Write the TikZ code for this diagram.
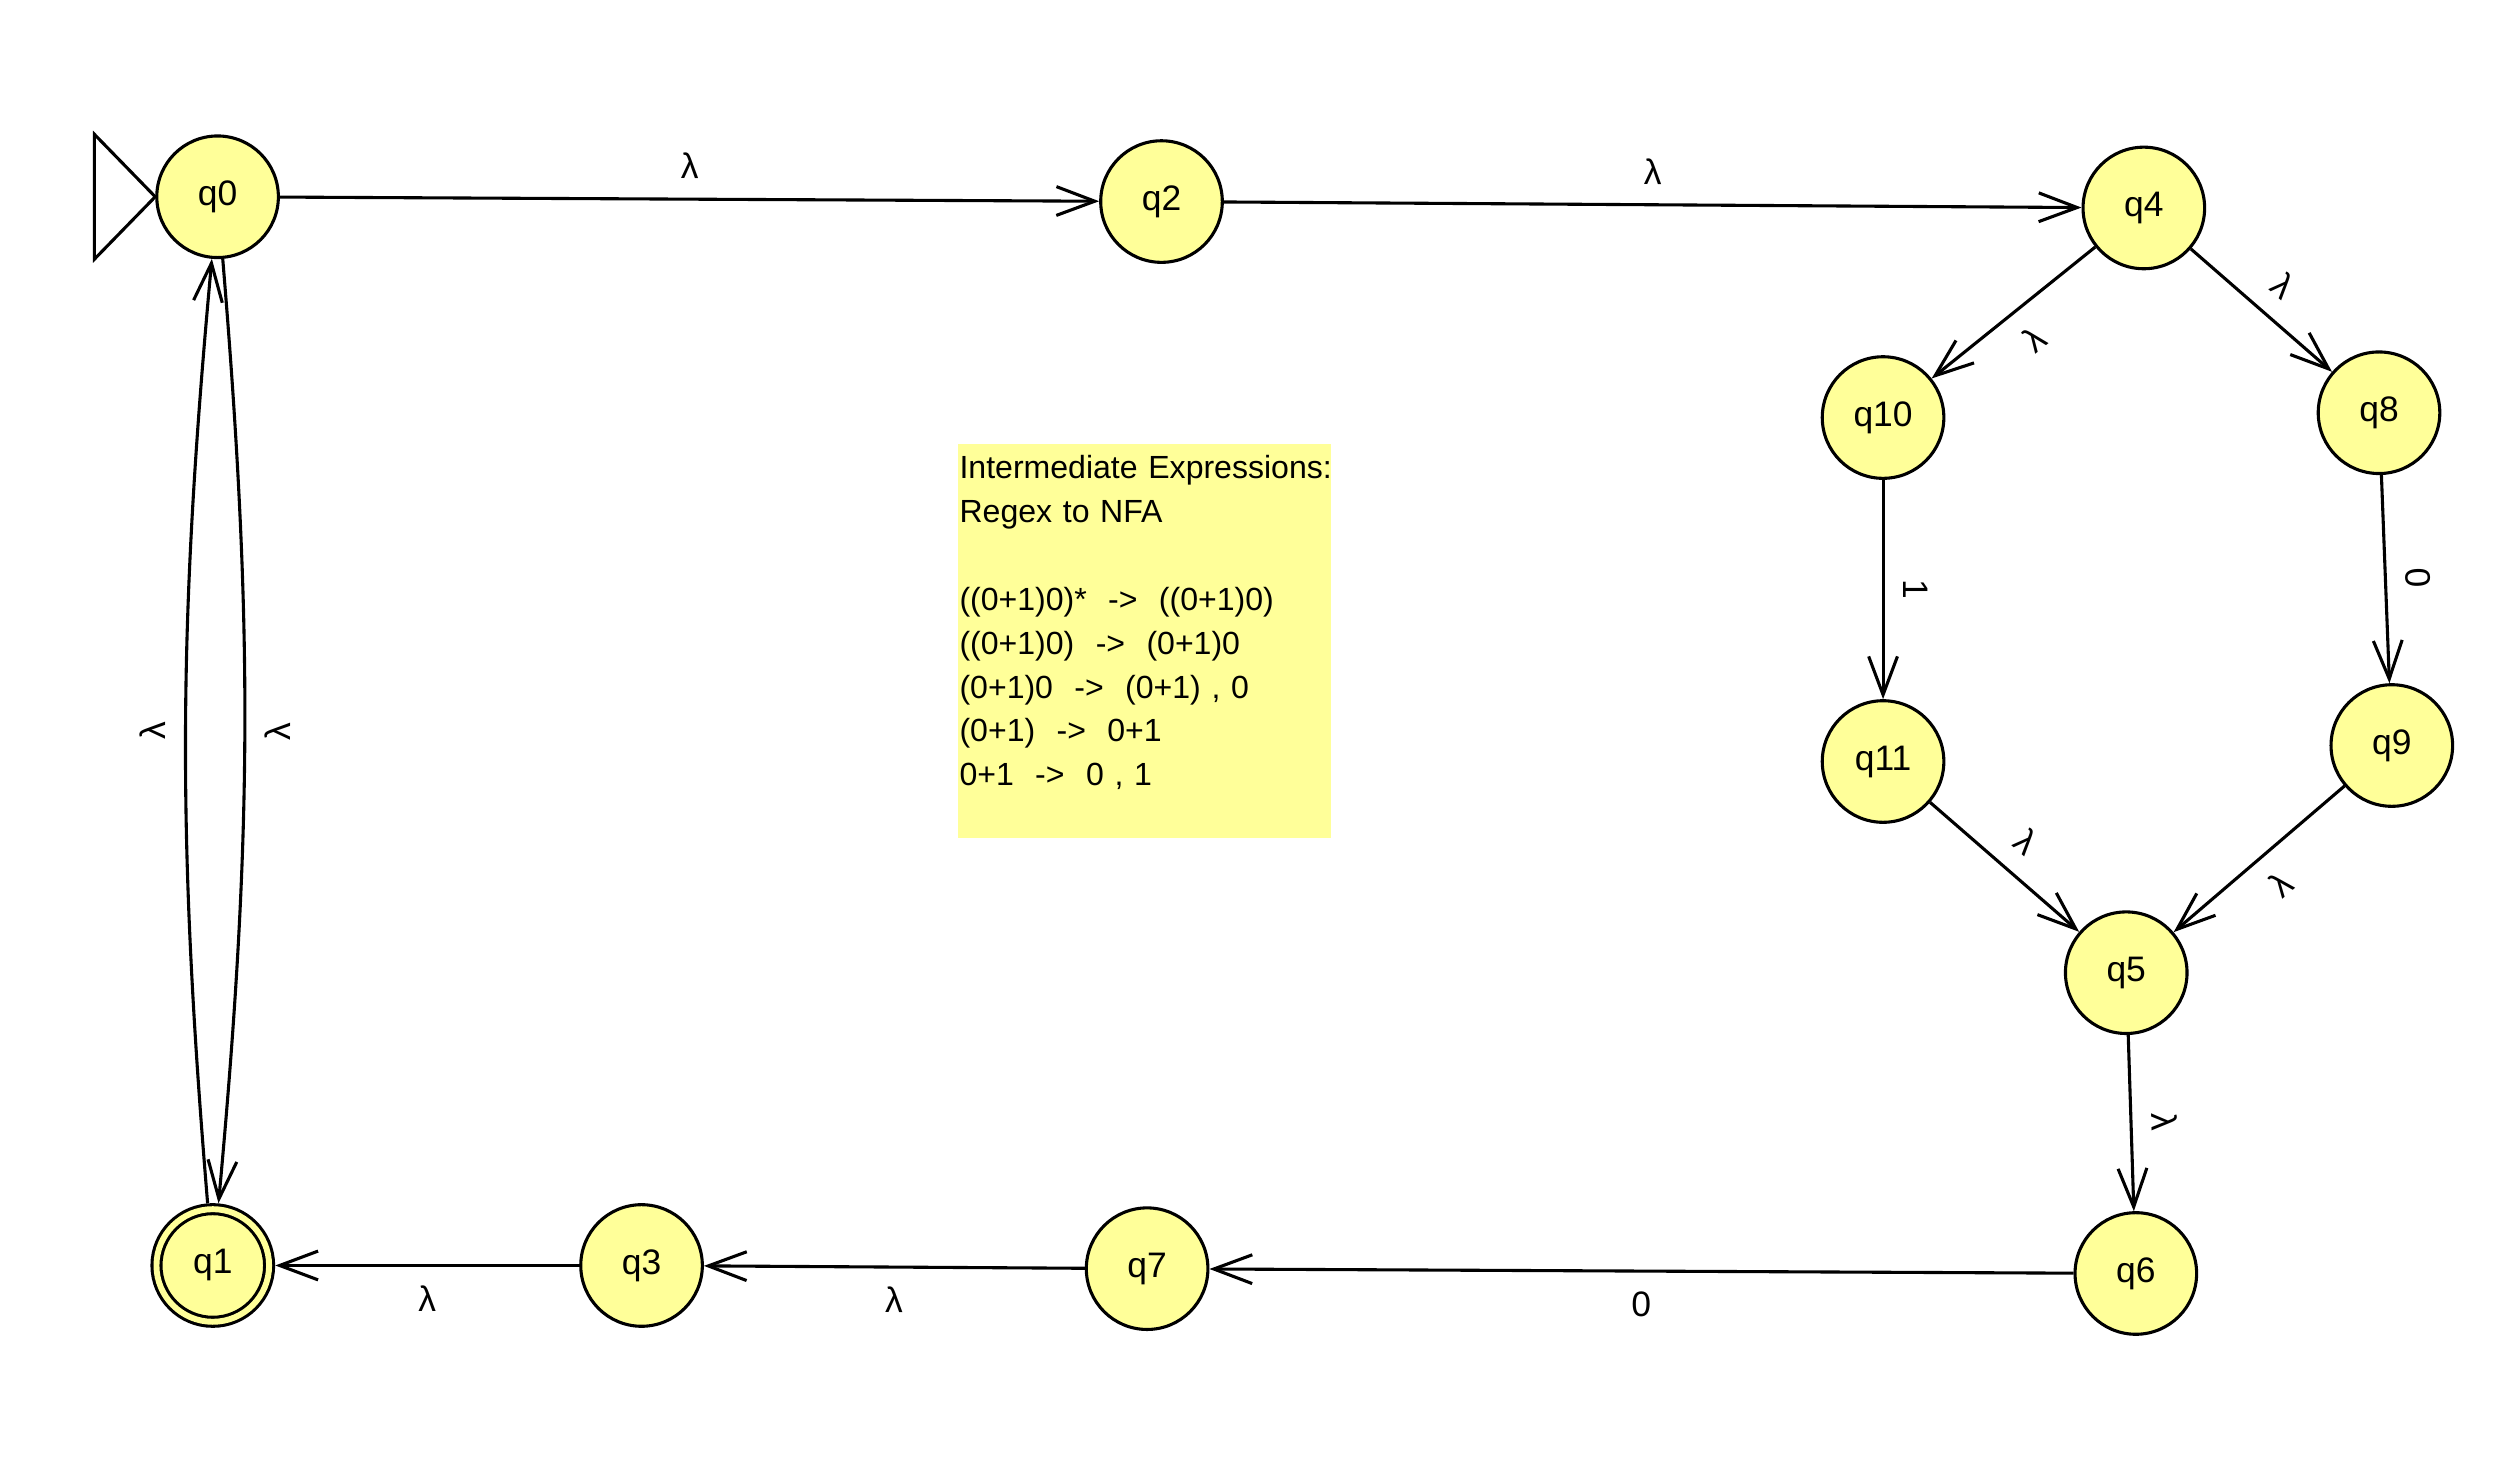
\documentclass[tikz,border=0pt]{standalone}
\usepackage{fontspec}
\setmainfont{Liberation Sans}
\usetikzlibrary{arrows.meta}
\definecolor{statefill}{RGB}{255,255,153}
\newcommand{\sizestate}{7.6mm}
\newcommand{\statefont}{\fontsize{6.3}{7.5}\selectfont}
\tikzset{
    st/.style={draw, circle, fill=statefill, line width=0.55pt, minimum size=\sizestate, inner sep=0pt, font=\statefont},
    final/.style={st, minimum size=7.04mm, double=statefill, double distance=1.05pt, outer sep=1.1pt},
    edge/.style={line width=0.55pt, -{Straight Barb[length=2.4mm, width=1.8mm]}},
    lbl/.style={sloped, font=\statefont},
    notebox/.style={fill=statefill, minimum width=2.33cm, minimum height=2.46cm, inner sep=0pt, anchor=north west},
    notetext/.style={anchor=north west, align=left, text width=2.6cm, inner xsep=0.3pt, inner ysep=2pt, font=\fontsize{5.7}{7.8}\selectfont},
}

\begin{document}
\begin{tikzpicture}
    \useasboundingbox (0,0) rectangle (15.67,-9.165);

    % states
    \node[st] (q0) at (1.36,-1.23) {q0};
    \node[st] (q2) at (7.26,-1.26) {q2};
    \node[st] (q4) at (13.40,-1.30) {q4};
    \node[st] (q10) at (11.77,-2.61) {q10};
    \node[st] (q8) at (14.87,-2.58) {q8};
    \node[st] (q11) at (11.77,-4.76) {q11};
    \node[st] (q9) at (14.95,-4.66) {q9};
    \node[st] (q5) at (13.29,-6.08) {q5};
    \node[st] (q6) at (13.35,-7.96) {q6};
    \node[st] (q7) at (7.17,-7.93) {q7};
    \node[st] (q3) at (4.01,-7.91) {q3};
    \node[final] (q1) at (1.33,-7.91) {q1};

    % start marker
    \draw[line width=0.55pt] (q0.west) -- ++(-0.38,0.39) -- ++(0,-0.78) -- cycle;

    % note
    \node[notebox] (note) at (5.98,-2.77) {};
    \node[notetext] (notetxt) at (note.north west) {Intermediate Expressions:\\
        Regex to NFA\\[7.8pt]
        ((0+1)0)*~~->~~((0+1)0)\\
        ((0+1)0)~~->~~(0+1)0\\
        (0+1)0~~->~~(0+1) , 0\\
        (0+1)~~->~~0+1\\
        0+1~~->~~0 , 1};

    % transitions
    \draw[edge] (q0) -- node[lbl, above] {λ} (q2);
    \draw[edge] (q2) -- node[lbl, above] {λ} (q4);
    \draw[edge] (q4) -- node[lbl, below] {λ} (q10);
    \draw[edge] (q4) -- node[lbl, above] {λ} (q8);
    \draw[edge] (q10) -- node[lbl, above] {1} (q11);
    \draw[edge] (q8) -- node[lbl, above] {0} (q9);
    \draw[edge] (q11) -- node[lbl, above] {λ} (q5);
    \draw[edge] (q9) -- node[lbl, below] {λ} (q5);
    \draw[edge] (q5) -- node[lbl, above] {λ} (q6);
    \draw[edge] (q6) -- node[lbl, below] {0} (q7);
    \draw[edge] (q7) -- node[lbl, below] {λ} (q3);
    \draw[edge] (q3) -- node[lbl, below] {λ} (q1);
    \draw[edge] (q0) to[bend left=5] node[lbl, below] {λ} (q1);
    \draw[edge] (q1) to[bend left=5] node[lbl, above] {λ} (q0);
\end{tikzpicture}
\end{document}
